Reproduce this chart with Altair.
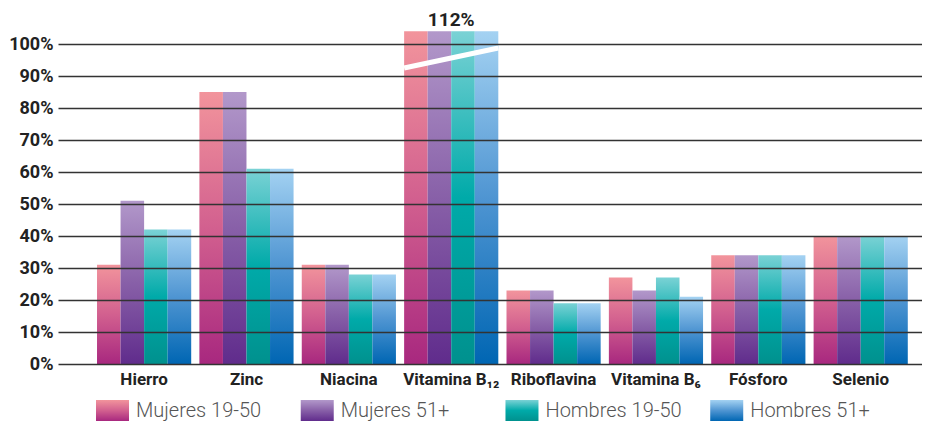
import altair as alt
import pandas as pd

categories = ["Hierro", "Zinc", "Niacina", "Vitamina B₁₂", "Riboflavina",
              "Vitamina B₆", "Fósforo", "Selenio"]
series = ["Mujeres 19-50", "Mujeres 51+", "Hombres 19-50", "Hombres 51+"]
mujeres_19_50 = [31, 85, 31, 112, 23, 27, 34, 40]
mujeres_51 = [51, 85, 31, 112, 23, 23, 34, 40]
hombres_19_50 = [42, 61, 28, 112, 19, 27, 34, 40]
hombres_51 = [42, 61, 28, 112, 19, 21, 34, 40]
y_ticks = [0, 10, 20, 30, 40, 50, 60, 70, 80, 90, 100]
bar_cap = 104          # bars above 100% are drawn cut at this height
break_cat = ["Vitamina B₁₂"]
break_y1 = [92.5]
break_y2 = [98.75]

stops = {
    "Mujeres 19-50": ["#f2949c", "#d2608f", "#a8287f"],
    "Mujeres 51+": ["#b298ca", "#8860a8", "#602c8c"],
    "Hombres 19-50": ["#7ad2d5", "#00aaa9", "#00918e"],
    "Hombres 51+": ["#a4d2f2", "#4f95d2", "#0066b3"],
}


def grad(s):
    c = stops[s]
    return alt.Gradient(
        gradient="linear", x1=0, y1=0, x2=0, y2=1,
        stops=[alt.GradientStop(offset=0, color=c[0]),
               alt.GradientStop(offset=0.5, color=c[1]),
               alt.GradientStop(offset=1, color=c[2])])


rows = []
for s, vals in zip(series, [mujeres_19_50, mujeres_51, hombres_19_50, hombres_51]):
    for c, v in zip(categories, vals):
        rows.append({"cat": c, "series": s, "value": v})
df = pd.DataFrame(rows)
brk = pd.DataFrame({"cat": break_cat, "y1": break_y1, "y2": break_y2})

FONT = "Roboto"

x_scale = alt.Scale(domain=categories, paddingInner=0.08, paddingOuter=0.26, align=0.733)
xo_scale = alt.Scale(domain=series, paddingInner=0, paddingOuter=0)
y_scale = alt.Scale(domain=[0, 100], nice=False, zero=True)

x_axis = alt.Axis(title=None, ticks=False, domain=False, labelAngle=0,
                  labelFont=FONT, labelFontWeight="bold", labelFontSize=17,
                  labelColor="#222", labelPadding=7)
y_axis = alt.Axis(title=None, ticks=False, domain=False, values=y_ticks,
                  labelExpr="datum.value + '%'", labelFont=FONT,
                  labelFontWeight="bold", labelFontSize=18, labelColor="#222",
                  labelPadding=5, grid=True, gridColor="#333333", gridWidth=1.5,
                  zindex=1, minExtent=50, maxExtent=50)

base = alt.Chart(df).transform_calculate(disp=f"min(datum.value, {bar_cap})")

layers = []
for s in series:
    layers.append(
        base.transform_filter(alt.datum.series == s)
        .mark_bar(color=grad(s))
        .encode(
            x=alt.X("cat:N", scale=x_scale, sort=categories, axis=x_axis),
            xOffset=alt.XOffset("series:N", scale=xo_scale, sort=series),
            y=alt.Y("disp:Q", scale=y_scale, axis=y_axis),
        )
    )

break_layer = alt.Chart(brk).mark_rule(color="white", strokeWidth=5).encode(
    x=alt.X("cat:N", scale=x_scale, sort=categories, axis=x_axis, bandPosition=0),
    x2=alt.X2("cat:N", bandPosition=1),
    y=alt.Y("y1:Q", scale=y_scale, axis=y_axis),
    y2="y2:Q",
)

label_layer = (
    base.transform_filter((alt.datum.series == series[0]) & (alt.datum.value > 100))
    .transform_calculate(lab="datum.value + '%'")
    .mark_text(font=FONT, fontWeight="bold", fontSize=19, color="#222",
               baseline="alphabetic", dy=-5)
    .encode(
        x=alt.X("cat:N", scale=x_scale, sort=categories, axis=x_axis),
        y=alt.Y("disp:Q", scale=y_scale, axis=y_axis),
        text="lab:N",
    )
)

main = alt.layer(*layers, break_layer, label_layer).properties(width=864, height=320)

leg_df = pd.DataFrame({"series": series})
lx = alt.Scale(domain=series, paddingInner=0.8388, paddingOuter=0.5294, align=0.1753)
leg_layers = []
for s in series:
    leg_layers.append(
        alt.Chart(leg_df).transform_filter(alt.datum.series == s)
        .mark_bar(color=grad(s))
        .encode(x=alt.X("series:N", scale=lx, sort=series, axis=None))
    )
leg_text = alt.Chart(leg_df).mark_text(
    align="left", baseline="middle", dx=40, font=FONT, fontWeight=300,
    fontSize=20, color="#555555"
).encode(
    x=alt.X("series:N", scale=lx, sort=series, axis=None, bandPosition=0),
    text="series:N",
)
legend = alt.layer(*leg_layers, leg_text).properties(width=864, height=21)

chart = (
    alt.vconcat(main, legend, spacing=13)
    .properties(padding={"left": 0, "top": 3, "right": 0, "bottom": 0})
    .configure(background="white")
    .configure_view(strokeWidth=0, stroke="transparent")
)

chart.save("out.html", embed_options={"renderer": "svg", "actions": False})
